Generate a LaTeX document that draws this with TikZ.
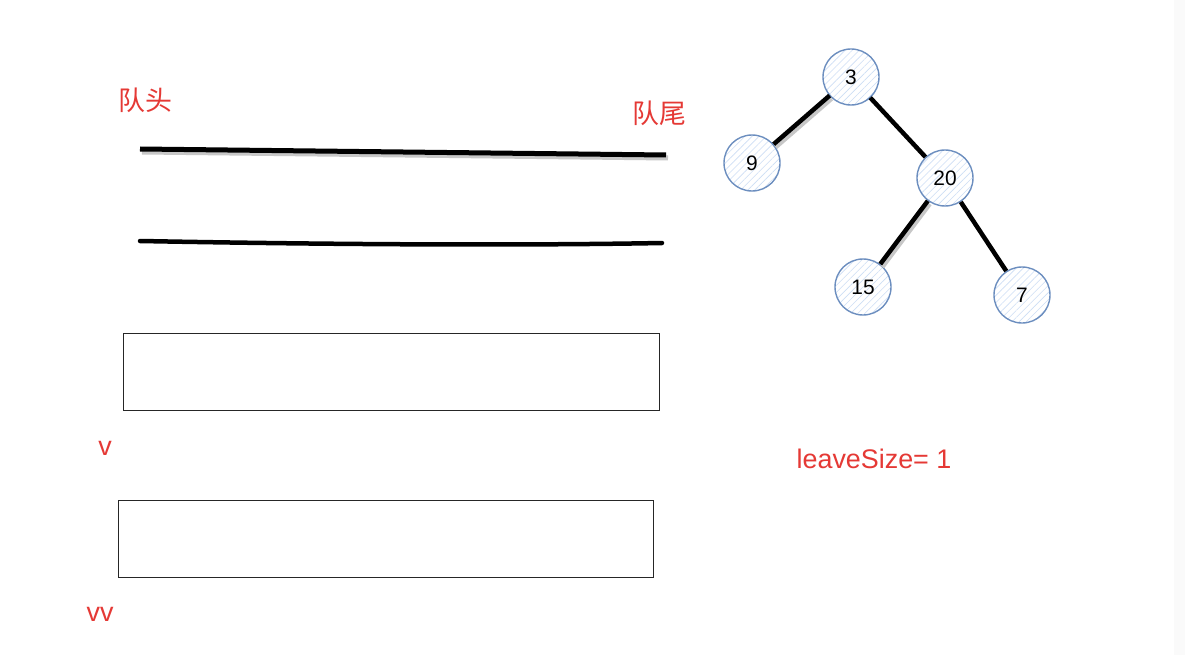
\documentclass[tikz,border=0pt]{standalone}
\usepackage{fontspec}
\setmainfont{Liberation Sans}
\newfontfamily\cjk{Noto Sans CJK SC}
\usepackage{xcolor}
\usetikzlibrary{patterns.meta}
\definecolor{qred}{RGB}{229,57,53}
\definecolor{nodeblue}{RGB}{108,142,191}
\definecolor{hatchblue}{RGB}{205,222,245}

\begin{document}
\begin{tikzpicture}[
  x=1bp, y=-1bp,
  lbl/.style={text=qred, inner sep=0pt, font=\fontsize{27}{30}\selectfont},
  cjklbl/.style={text=qred, inner sep=0pt, font=\cjk\fontsize{27}{30}\selectfont},
  qline/.style={line width=5bp},
  qshadow/.style={line width=5bp, draw=black!22},
  qbox/.style={draw=black!85, line width=1bp, inner sep=0pt, minimum width=535bp, minimum height=77bp},
  tnode/.style={circle, draw=nodeblue, line width=1.4bp, inner sep=0pt, minimum size=56bp,
    pattern={Lines[angle=45, distance=5bp, line width=0.6bp]}, pattern color=hatchblue,
    font=\fontsize{21}{24}\selectfont},
  treeedge/.style={line width=4.5bp},
  edgeshadow/.style={line width=4.5bp, draw=black!22}
]
\useasboundingbox (0,0) rectangle (1185,655);
\fill[white] (0,0) rectangle (1185,655);
\fill[black!2] (1174,0) rectangle (1185,655);

% Queue head / tail labels
\node[cjklbl] (qhead) at (145,100) {队头};
\node[cjklbl] (qtail) at (659,113) {队尾};

% Two queue lines
\coordinate (h1) at (140,149);
\coordinate (t1) at (666,155);
\draw[qshadow] ([shift={(2,3)}]h1) -- ([shift={(2,3)}]t1);
\draw[qline] (h1) -- (t1);
\coordinate (h2) at (140,241);
\coordinate (t2) at (662,243);
\draw[qline, line width=4.5bp, line cap=round] (h2) .. controls (300,244) and (500,246) .. (t2);

% Boxes v and vv
\node[qbox] (vbox) at (391.5,371.5) {};
\node[lbl] (vlbl) at (105,448) {v};
\node[qbox] (vvbox) at (386,538.5) {};
\node[lbl] (vvlbl) at (100,614) {vv};

% Counter
\node[lbl] (leave) at (874,459) {leaveSize= 1};

% Tree
\node[tnode] (n3) at (851,77) {3};
\node[tnode] (n9) at (752,163) {9};
\node[tnode] (n20) at (945,178) {20};
\node[tnode] (n15) at (863,287) {15};
\node[tnode] (n7) at (1022,295) {7};

\begin{scope}[transform canvas={shift={(2,3)}}]
  \draw[edgeshadow] (n3) -- (n9);
  \draw[edgeshadow] (n20) -- (n15);
\end{scope}
\draw[treeedge] (n3) -- (n9);
\draw[treeedge] (n3) -- (n20);
\draw[treeedge] (n20) -- (n15);
\draw[treeedge] (n20) -- (n7);

\end{tikzpicture}
\end{document}
